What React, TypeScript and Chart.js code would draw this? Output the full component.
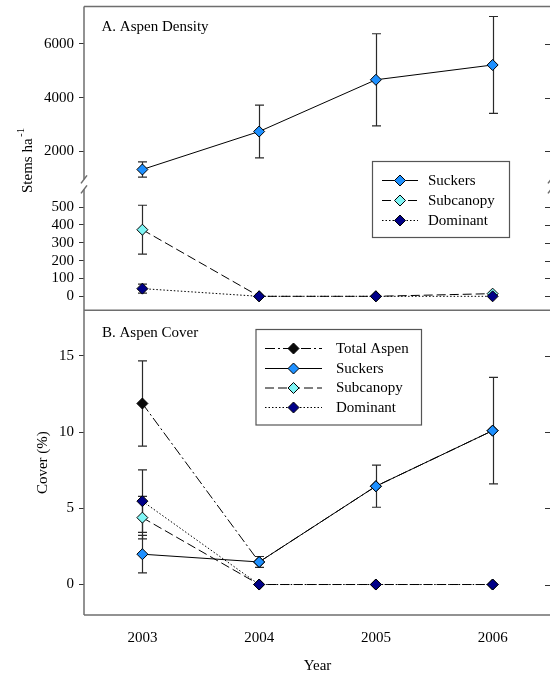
import React, { useEffect, useRef } from "react";
import { Chart, registerables } from "chart.js";
Chart.register(...registerables);

// ---- data ----
const years = [2003, 2004, 2005, 2006];
const xTicks = [2003, 2004, 2005, 2006];
const densityUpperTicks = [2000, 4000, 6000];
const densityLowerTicks = [0, 100, 200, 300, 400, 500];
const coverTicks = [0, 5, 10, 15];

const densitySuckers = [1330, 2740, 4660, 5210];
const densitySuckersErr = [280, 980, 1710, 1800];
const densitySubcanopy = [373, 0, 0, 15];
const densitySubcanopyErr = [137, 0, 0, 0];
const densityDominant = [43, 0, 0, 0];
const densityDominantErr = [25, 0, 0, 0];

const coverTotal = [11.88, 1.48, 6.45, 10.1];
const coverTotalErr = [2.8, 0, 0, 0];
const coverSuckers = [1.99, 1.48, 6.45, 10.1];
const coverSuckersErr = [1.23, 0.36, 1.38, 3.5];
const coverSubcanopy = [4.39, 0, 0, 0];
const coverSubcanopyErr = [1.4, 0, 0, 0];
const coverDominant = [5.47, 0, 0, 0];
const coverDominantErr = [2.05, 0, 0, 0];

// ---- styles ----
const FONT = '"Liberation Serif", "Times New Roman", serif';
const C_SUCKERS = "#1e90ff";
const C_SUBCANOPY = "#7ff5f5";
const C_DOMINANT = "#000088";
const C_TOTAL = "#0a0a0a";
const DASH_SUCKERS: number[] = [];
const DASH_SUBCANOPY = [9, 4];
const DASH_DOMINANT = [1.5, 2];
const DASH_TOTAL = [10, 3, 2, 3];

const pts = (vals: number[]) => years.map((x, i) => ({ x, y: vals[i] }));

function series(label: string, vals: number[], errs: number[], axis: string, fill: string, dash: number[]) {
  return {
    label,
    data: pts(vals),
    errors: errs,
    yAxisID: axis,
    borderColor: "#000",
    borderWidth: 1,
    borderDash: dash,
    pointStyle: "rectRot",
    pointRadius: 5.5,
    pointBackgroundColor: fill,
    pointBorderColor: "#000",
    pointBorderWidth: 1,
    fill: false,
    tension: 0,
  };
}

const errorBarPlugin = {
  id: "errbars",
  beforeDatasetsDraw(chart: any) {
    const ctx = chart.ctx;
    ctx.save();
    ctx.strokeStyle = "#2a2a2a";
    ctx.lineWidth = 1.2;
    chart.data.datasets.forEach((ds: any) => {
      const errs = ds.errors;
      if (!errs) return;
      const xs = chart.scales.x;
      const ys = chart.scales[ds.yAxisID];
      ds.data.forEach((p: any, j: number) => {
        const e = errs[j];
        if (!e) return;
        const px = Math.round(xs.getPixelForValue(p.x)) + 0.5;
        const y1 = ys.getPixelForValue(p.y + e);
        const y2 = ys.getPixelForValue(p.y - e);
        ctx.beginPath();
        ctx.moveTo(px, y1);
        ctx.lineTo(px, y2);
        ctx.moveTo(px - 4.5, y1);
        ctx.lineTo(px + 4.5, y1);
        ctx.moveTo(px - 4.5, y2);
        ctx.lineTo(px + 4.5, y2);
        ctx.stroke();
      });
    });
    ctx.restore();
  },
};

function drawDiamond(ctx: CanvasRenderingContext2D, x: number, y: number, r: number, fill: string) {
  ctx.beginPath();
  ctx.moveTo(x - r, y);
  ctx.lineTo(x, y - r);
  ctx.lineTo(x + r, y);
  ctx.lineTo(x, y + r);
  ctx.closePath();
  ctx.fillStyle = fill;
  ctx.fill();
  ctx.setLineDash([]);
  ctx.strokeStyle = "#000";
  ctx.lineWidth = 1;
  ctx.stroke();
}

type LegendItem = { label: string; fill: string; dash: number[] };

function drawLegend(
  ctx: CanvasRenderingContext2D,
  box: { x: number; y: number; w: number; h: number },
  rows: number[],
  lineX1: number,
  lineX2: number,
  textX: number,
  items: LegendItem[]
) {
  ctx.save();
  ctx.fillStyle = "#fff";
  ctx.fillRect(box.x, box.y, box.w, box.h);
  ctx.strokeStyle = "#555";
  ctx.lineWidth = 1.2;
  ctx.setLineDash([]);
  ctx.strokeRect(box.x, box.y, box.w, box.h);
  items.forEach((it, i) => {
    const y = rows[i];
    ctx.strokeStyle = "#000";
    ctx.lineWidth = 1;
    ctx.setLineDash(it.dash);
    ctx.beginPath();
    ctx.moveTo(lineX1, y);
    ctx.lineTo(lineX2, y);
    ctx.stroke();
    drawDiamond(ctx, (lineX1 + lineX2) / 2, y, 5.5, it.fill);
    ctx.fillStyle = "#000";
    ctx.font = `15px ${FONT}`;
    ctx.textAlign = "left";
    ctx.textBaseline = "middle";
    ctx.fillText(it.label, textX, y + 0.5);
  });
  ctx.restore();
}

const framePlugin = {
  id: "frame",
  afterDraw(chart: any) {
    const ctx: CanvasRenderingContext2D = chart.ctx;
    const a1 = chart.scales.yA1;
    const a2 = chart.scales.yA2;
    const b = chart.scales.yB;
    const L = chart.chartArea.left;
    const R = chart.chartArea.right;
    const split = a1.bottom;
    ctx.save();
    const line = (x1: number, y1: number, x2: number, y2: number) => {
      ctx.beginPath();
      ctx.moveTo(x1, y1);
      ctx.lineTo(x2, y2);
      ctx.stroke();
    };
    // right-side inward ticks
    ctx.strokeStyle = "#333";
    ctx.lineWidth = 1;
    [a1, a2, b].forEach((s: any) => {
      s.ticks.forEach((t: any) => {
        const py = Math.round(s.getPixelForValue(t.value)) + 0.5;
        line(R - 6, py, R, py);
      });
    });
    // box
    ctx.strokeStyle = "#6e6e6e";
    ctx.lineWidth = 1.5;
    line(L, a1.top, R + 1, a1.top);
    line(L, b.top, R + 1, b.top);
    line(L, b.bottom, R + 1, b.bottom);
    [L, R].forEach((X) => {
      line(X, a1.top, X, split - 5);
      line(X, split + 5, X, b.bottom);
      // break marks
      line(X - 3, split - 1, X + 3, split - 9);
      line(X - 3, split + 9, X + 3, split + 1);
    });

    // panel titles
    ctx.fillStyle = "#000";
    ctx.font = `15px ${FONT}`;
    ctx.textAlign = "left";
    ctx.textBaseline = "alphabetic";
    ctx.fillText("A. Aspen Density", 101.5, 31);
    ctx.fillText("B. Aspen Cover", 102, 336.5);

    // y titles
    ctx.save();
    ctx.translate(31.5, 193);
    ctx.rotate(-Math.PI / 2);
    ctx.font = `15px ${FONT}`;
    ctx.fillText("Stems ha", 0, 0);
    const w = ctx.measureText("Stems ha").width;
    ctx.font = `11px ${FONT}`;
    ctx.fillText("-1", w + 1.5, -8);
    ctx.restore();

    ctx.save();
    ctx.translate(47, (b.top + b.bottom) / 2);
    ctx.rotate(-Math.PI / 2);
    ctx.font = `15px ${FONT}`;
    ctx.textAlign = "center";
    ctx.fillText("Cover (%)", 0, 0);
    ctx.restore();

    // legends
    drawLegend(
      ctx,
      { x: 372.5, y: 161.5, w: 137, h: 76 },
      [180.5, 200.5, 220.5],
      382,
      418,
      428,
      [
        { label: "Suckers", fill: C_SUCKERS, dash: DASH_SUCKERS },
        { label: "Subcanopy", fill: C_SUBCANOPY, dash: DASH_SUBCANOPY },
        { label: "Dominant", fill: C_DOMINANT, dash: DASH_DOMINANT },
      ]
    );
    drawLegend(
      ctx,
      { x: 256, y: 329.5, w: 165.5, h: 95.5 },
      [348.5, 368.5, 388, 407.5],
      265,
      322,
      336,
      [
        { label: "Total Aspen", fill: C_TOTAL, dash: DASH_TOTAL },
        { label: "Suckers", fill: C_SUCKERS, dash: DASH_SUCKERS },
        { label: "Subcanopy", fill: C_SUBCANOPY, dash: DASH_SUBCANOPY },
        { label: "Dominant", fill: C_DOMINANT, dash: DASH_DOMINANT },
      ]
    );
    ctx.restore();
  },
};

function yScale(min: number, max: number, weight: number, tickVals: number[]) {
  return {
    type: "linear",
    position: "left",
    stack: "left",
    stackWeight: weight,
    min,
    max,
    border: { display: false },
    grid: { drawOnChartArea: false, drawTicks: true, tickLength: 5, color: "#333", lineWidth: 1 },
    ticks: {
      padding: 5,
      autoSkip: false,
      color: "#000",
      font: { family: FONT, size: 15 },
      callback: (v: any) => String(v),
    },
    afterBuildTicks: (s: any) => {
      s.ticks = tickVals.map((v) => ({ value: v }));
    },
    afterFit: (s: any) => {
      s.width = 84;
      s.paddingTop = 0;
      s.paddingBottom = 0;
      s.paddingLeft = 0;
      s.paddingRight = 0;
    },
  };
}

export default function App() {
  const ref = useRef<HTMLCanvasElement | null>(null);
  useEffect(() => {
    if (!ref.current) return;
    const chart = new Chart(ref.current, {
      type: "line",
      data: {
        datasets: [
          series("Suckers", densitySuckers, densitySuckersErr, "yA1", C_SUCKERS, DASH_SUCKERS),
          series("Dominant", densityDominant, densityDominantErr, "yA2", C_DOMINANT, DASH_DOMINANT),
          series("Subcanopy", densitySubcanopy, densitySubcanopyErr, "yA2", C_SUBCANOPY, DASH_SUBCANOPY),
          series("Suckers", coverSuckers, coverSuckersErr, "yB", C_SUCKERS, DASH_SUCKERS),
          series("Dominant", coverDominant, coverDominantErr, "yB", C_DOMINANT, DASH_DOMINANT),
          series("Subcanopy", coverSubcanopy, coverSubcanopyErr, "yB", C_SUBCANOPY, DASH_SUBCANOPY),
          series("Total Aspen", coverTotal, coverTotalErr, "yB", C_TOTAL, DASH_TOTAL),
        ] as any,
      },
      options: {
        responsive: false,
        animation: false,
        devicePixelRatio: 1,
        layout: { padding: { left: 0, right: 9, top: 6, bottom: 0 } },
        plugins: { legend: { display: false }, tooltip: { enabled: false } },
        scales: {
          x: {
            type: "linear",
            position: "bottom",
            min: 2002.5,
            max: 2006.5,
            border: { display: false },
            grid: { display: false, drawTicks: false },
            ticks: {
              padding: 14,
              autoSkip: false,
              color: "#000",
              font: { family: FONT, size: 15 },
              callback: (v: any) => String(v),
            },
            afterBuildTicks: (s: any) => {
              s.ticks = xTicks.map((v) => ({ value: v }));
            },
            afterFit: (s: any) => {
              s.height = 59;
              s.paddingLeft = 0;
              s.paddingRight = 0;
              s.paddingTop = 0;
              s.paddingBottom = 0;
            },
            title: {
              display: true,
              text: "Year",
              color: "#000",
              font: { family: FONT, size: 15 },
              padding: { top: 0, bottom: -1 },
            },
          },
          yB: yScale(-2, 18, 305, coverTicks),
          yA2: yScale(-78, 627, 126, densityLowerTicks),
          yA1: yScale(778, 7381, 178, densityUpperTicks),
        } as any,
      },
      plugins: [errorBarPlugin, framePlugin],
    });
    return () => chart.destroy();
  }, []);
  return (
    <div style={{ position: "fixed", left: 0, top: 0, width: 550, height: 674, overflow: "hidden", background: "#fff" }}>
      <canvas ref={ref} width={560} height={674} style={{ width: 560, height: 674, display: "block" }} />
    </div>
  );
}
